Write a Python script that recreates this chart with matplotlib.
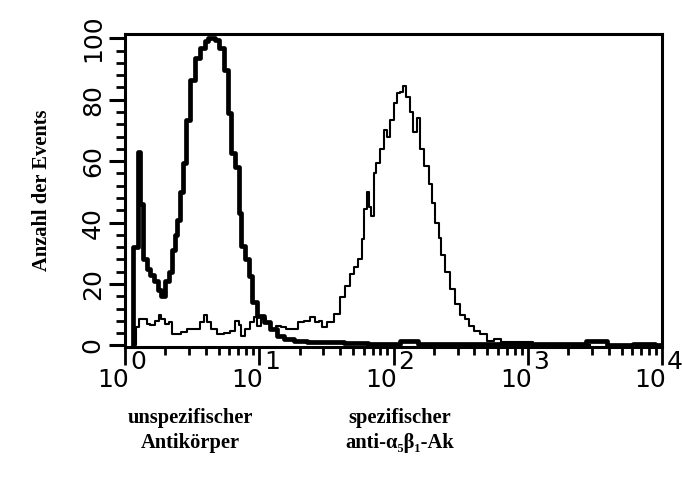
import numpy as np
import matplotlib.pyplot as plt
from matplotlib.ticker import LogLocator, NullFormatter

# FL1-Kanal (1024 Kanäle über 4 Dekaden) und Anzahl der Events
kontrolle_kanal = [15, 17, 23, 27, 32, 38, 44, 51, 59, 67, 72, 80, 86, 92, 97, 101,
                   107, 114, 120, 128, 137, 149, 156, 162, 170, 175, 185, 191, 200,
                   206, 214, 219, 225, 233, 238, 248, 257, 271, 282, 296, 309, 334,
                   359, 397, 435, 486, 553, 563, 620, 715, 830, 912, 925, 1001, 1020]
kontrolle_anzahl = [0, 32, 32, 63, 46, 28, 25, 23, 21, 18, 16, 21, 24, 31, 36, 41,
                    50, 59.5, 73.5, 86.5, 93.6, 97, 99, 100, 100, 99.4, 97, 89.7, 75.7,
                    62.7, 58, 43, 32.3, 28, 22.5, 14, 9.6, 7.6, 5.4, 3.1, 2, 1.5,
                    1.2, 1, 0.8, 0.6, 1.5, 0.6, 0.5, 0.5, 0.4, 1.5, 0.3, 0.5, 0.3]

spezifisch_kanal = [20, 23, 29, 38, 44, 53, 61, 67, 72, 80, 86, 92, 101, 111, 124, 139,
                    147, 153, 158, 168, 181, 195, 204, 214, 219, 225, 233, 242, 248, 254,
                    263, 273, 282, 292, 301, 311, 324, 334, 347, 357, 366, 372, 381, 391,
                    404, 414, 423, 433, 442, 448, 454, 458, 463, 467, 471, 477, 482, 490,
                    496, 502, 509, 515, 521, 528, 532, 540, 545, 553, 559, 566, 576, 582,
                    587, 595, 601, 606, 616, 625, 633, 643, 652, 658, 671, 683, 696, 709,
                    725, 744, 763, 791, 830, 887]
spezifisch_anzahl = [0, 6, 8.6, 8.6, 7, 6.5, 8, 10, 8.5, 7, 7.5, 3.7, 3.7, 4.4, 5.4, 5.4,
                     7.5, 10, 7.5, 5.4, 3.7, 4.2, 4.8, 7.9, 6.5, 3.1, 5.5, 7.5, 9.2, 6.3,
                     8.6, 7.5, 5.4, 6.3, 6, 5.4, 5.4, 7.6, 7.9, 9.2, 7.5, 7.9, 6, 7.6,
                     10.2, 15.7, 19.3, 23.2, 25.5, 28, 34.6, 44.3, 49.8, 45, 42, 56.3, 59.5, 63.8,
                     70, 68, 73.5, 79, 82.2, 82.6, 84.5, 81, 76, 69.5, 74, 64, 58.3, 52.5,
                     46.5, 40, 35, 29.5, 24, 18.5, 13.4, 10, 8.6, 6.3, 4.7, 3.7, 1.5, 2,
                     1.0, 1.2, 1.0, 0.5, 0.3, 0]

y_ticks = [0, 20, 40, 60, 80, 100]
dekaden = [0, 1, 2, 3, 4]

plt.rcParams['font.family'] = ['DejaVu Sans']
serif = ['Liberation Serif', 'DejaVu Serif']


def kanal_zu_fl(k):
    return 10 ** (np.asarray(k) / 256)


fig = plt.figure(figsize=(6.82, 4.87), dpi=100)
ax = fig.add_axes([125 / 682, 1 - 347 / 487, 537 / 682, 313 / 487])

ax.plot(kanal_zu_fl(spezifisch_kanal), spezifisch_anzahl, drawstyle='steps-mid',
        color='black', lw=1.5)
ax.plot(kanal_zu_fl(kontrolle_kanal), kontrolle_anzahl, drawstyle='steps-mid',
        color='black', lw=3.4)

ax.set_xscale('log')
ax.set_xlim(1, 1e4)
ax.set_ylim(-0.5, 101.4)

for s in ax.spines.values():
    s.set_linewidth(2.2)

# x-Achse: Dekaden mit Hochzahl rechts neben dem Strich
ax.set_xticks([10 ** d for d in dekaden])
ax.set_xticklabels([])
ax.xaxis.set_minor_locator(LogLocator(base=10, subs=np.arange(2, 10)))
ax.xaxis.set_minor_formatter(NullFormatter())
ax.tick_params(axis='x', which='major', length=13, width=2, direction='out')
ax.tick_params(axis='x', which='minor', length=6, width=2, direction='out')

for d in dekaden:
    ax.annotate('10', xy=(10 ** d, 0), xycoords=('data', 'axes fraction'),
                xytext=(4, -21), textcoords='offset pixels',
                ha='right', va='top', fontsize=18)
    ax.annotate(str(d), xy=(10 ** d, 0), xycoords=('data', 'axes fraction'),
                xytext=(5, -3), textcoords='offset pixels',
                ha='left', va='top', fontsize=18)

# y-Achse
ax.set_yticks(y_ticks)
ax.set_yticks(np.arange(0, 101, 4), minor=True)
ax.tick_params(axis='y', which='major', length=11.5, width=2.2, labelsize=18,
               labelrotation=90, pad=3)
ax.tick_params(axis='y', which='minor', length=6.5, width=2)
for lab in ax.get_yticklabels():
    lab.set_va('center')

fig.text(42 / 682, 1 - 190 / 487, 'Anzahl der Events', rotation=90, ha='center',
         va='center', fontsize=14.8, fontweight='bold', family=serif)
fig.text(190 / 682, 1 - 418 / 487, 'unspezifischer', ha='center', va='center',
         fontsize=14.8, fontweight='bold', family=serif)
fig.text(190 / 682, 1 - 443 / 487, 'Antikörper', ha='center', va='center',
         fontsize=14.8, fontweight='bold', family=serif)
fig.text(400 / 682, 1 - 418 / 487, 'spezifischer', ha='center', va='center',
         fontsize=14.8, fontweight='bold', family=serif)
fig.text(400 / 682, 1 - 443 / 487, 'anti-α₅β₁-Ak', ha='center', va='center',
         fontsize=14.8, fontweight='bold', family=serif)

fig.savefig('out.png', dpi=100)
